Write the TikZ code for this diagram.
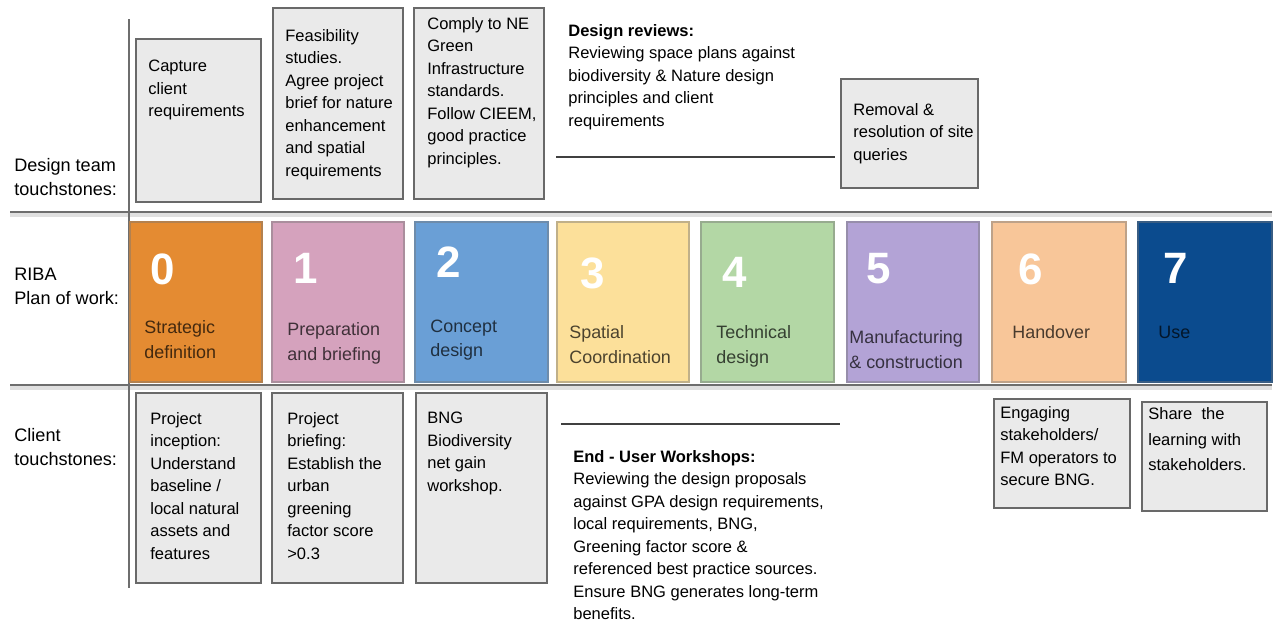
\documentclass[tikz,border=0pt]{standalone}
\usepackage{fontspec}
\setmainfont{Liberation Sans}
\usepackage{tikz}
\definecolor{cardfill}{RGB}{234, 234, 234}
\definecolor{cardline}{RGB}{105, 105, 105}
\definecolor{rule}{RGB}{110, 110, 110}
\definecolor{stage0}{RGB}{228, 139, 50}
\definecolor{stage1}{RGB}{213, 162, 189}
\definecolor{stage2}{RGB}{106, 159, 214}
\definecolor{stage3}{RGB}{252, 224, 154}
\definecolor{stage4}{RGB}{179, 215, 165}
\definecolor{stage5}{RGB}{179, 163, 214}
\definecolor{stage6}{RGB}{248, 198, 153}
\definecolor{stage7}{RGB}{11, 75, 142}

\begin{document}
\begin{tikzpicture}[x=0.02cm, y=-0.02cm,
    card/.style={draw=cardline, fill=cardfill, line width=0.9pt},
    note/.style={anchor=north west, inner sep=0pt, align=left,
                 font=\fontsize{9.4}{12.8}\selectfont},
    rowlabel/.style={anchor=north west, inner sep=0pt, align=left,
                     font=\fontsize{10.3}{13.6}\selectfont},
    stagenum/.style={anchor=north west, inner sep=0pt, text=white,
                     font=\fontsize{25}{25}\selectfont\bfseries},
    stagelab/.style={anchor=north west, inner sep=0pt, align=left,
                     text=black, text opacity=0.7,
                     font=\fontsize{10.2}{13.9}\selectfont}]

  \useasboundingbox (0, 0) rectangle (1275, 623);

  % grid lines with a soft shadow
  \foreach \yy in {212, 385} {
    \draw[black!12, line width=2.5pt] (10, \yy + 3) -- (1272, \yy + 3);
    \draw[rule, line width=1.1pt] (10, \yy) -- (1272, \yy);
  }
  \draw[rule, line width=1.1pt] (129, 19) -- (129, 588);

  % row labels
  \node[rowlabel] (designLab) at (14, 158.5) {Design team\\touchstones:};
  \node[rowlabel] (ribaLab)   at (14, 267.5) {RIBA\\Plan of work:};
  \node[rowlabel] (clientLab) at (14, 428.5) {Client\\touchstones:};

  % RIBA stages
  \foreach \n/\xa/\xb/\dx/\dy/\lx/\ly/\lab in {
      0/130/262/20/253/14/320.5/{Strategic\\definition},
      1/272/404/21/253/15/322.5/{Preparation\\and briefing},
      2/415/548/21/246/15/319.5/{Concept\\design},
      3/557/689/23/257/12/325.5/{Spatial\\Coordination},
      4/701/834/21/257/15/325.5/{Technical\\design},
      5/847/979/19/253/2/330.5/{Manufacturing\\\& construction},
      6/992/1126/26/253/20/325.5/{Handover},
      7/1138/1272/25/253/20/325.5/{Use}} {
    \fill[stage\n] (\xa, 222) rectangle (\xb, 382);
    \draw[stage\n!70!black!80, line width=0.7pt] (\xa, 222) rectangle (\xb, 382);
    \node[stagenum] (num\n) at (\xa + \dx, \dy) {\n};
    \node[stagelab] (lab\n) at (\xa + \lx, \ly) {\lab};
  }

  % design team touchstones
  \draw[card] (136, 39) rectangle (261, 202);
  \node[note] (captureT) at (148, 60) {Capture\\client\\requirements};

  \draw[card] (273, 8) rectangle (403, 199);
  \node[note] (feasT) at (285, 29)
    {Feasibility\\studies.\\Agree project\\brief for nature\\enhancement\\and spatial\\requirements};

  \draw[card] (414, 8) rectangle (544, 199);
  \node[note] (complyT) at (427, 17)
    {Comply to NE\\Green\\Infrastructure\\standards.\\Follow CIEEM,\\good practice\\principles.};

  \node[note] (reviewT) at (568, 24)
    {\textbf{Design reviews:}\\Reviewing space plans against\\biodiversity \& Nature design\\principles and client\\requirements};
  \draw[black!75, line width=0.6pt] (556, 157) -- (835, 157);

  \draw[card] (841, 79) rectangle (978, 188);
  \node[note] (removalT) at (853, 103) {Removal \&\\resolution of site\\queries};

  % client touchstones
  \draw[card] (136, 393) rectangle (261, 583);
  \node[note] (inceptT) at (150, 412)
    {Project\\inception:\\Understand\\baseline /\\local natural\\assets and\\features};

  \draw[card] (272, 393) rectangle (403, 583);
  \node[note] (briefT) at (287, 412)
    {Project\\briefing:\\Establish the\\urban\\greening\\factor score\\>0.3};

  \draw[card] (416, 393) rectangle (547, 583);
  \node[note] (bngT) at (427, 412) {BNG\\Biodiversity\\net gain\\workshop.};

  \draw[black!75, line width=0.6pt] (561, 424) -- (840, 424);
  \node[note] (workshopT) at (573, 450)
    {\textbf{End - User Workshops:}\\Reviewing the design proposals\\against GPA design requirements,\\local requirements, BNG,\\Greening factor score \&\\referenced best practice sources.\\Ensure BNG generates long-term\\benefits.};

  \draw[card] (994, 399) rectangle (1130, 508);
  \node[note] (engageT) at (1000, 406)
    {Engaging\\stakeholders/\\FM operators to\\secure BNG.};

  \draw[card] (1142, 402) rectangle (1267, 511);
  \node[note, font=\fontsize{9.4}{14.7}\selectfont] (shareT) at (1148, 407)
    {Share~ the\\learning with\\stakeholders.};

\end{tikzpicture}
\end{document}
